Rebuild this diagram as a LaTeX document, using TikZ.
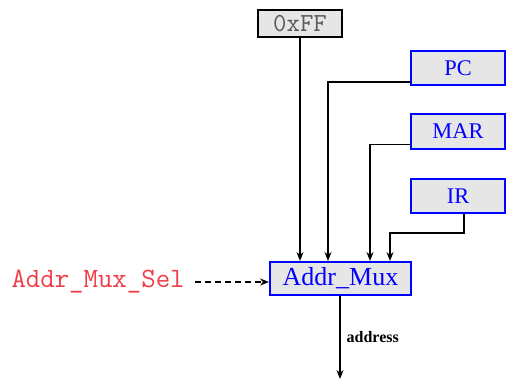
\documentclass[tikz,border=0pt]{standalone}
\usepackage{fontspec}
\setmainfont{Liberation Serif}
\usetikzlibrary{arrows.meta,calc}
\definecolor{boxgray}{RGB}{230,230,230}
\definecolor{selred}{RGB}{240,60,70}
\tikzset{
  regbox/.style={draw=blue, line width=1pt, fill=boxgray, text=blue, inner sep=0pt, font=\fontsize{11.2}{12}\selectfont},
  constbox/.style={draw=black, line width=1pt, fill=boxgray, text=black!65, inner sep=0pt, font=\ttfamily\fontsize{13}{14}\selectfont},
  wire/.style={line width=0.7pt, -{Stealth[length=4.5pt,width=3.5pt]}},
  dashwire/.style={wire, dash pattern=on 3pt off 2pt}
}
\begin{document}
\begin{tikzpicture}[x=0.5pt,y=-0.5pt]
\useasboundingbox (0,0) rectangle (509,381);
\node[constbox, minimum width=42pt, minimum height=13.5pt] (hex) at (300,23.5) {0xFF};
\node[regbox, minimum width=47pt, minimum height=17pt] (pc) at (458,68) {PC};
\node[regbox, minimum width=47pt, minimum height=17.5pt] (mar) at (458,131.5) {MAR};
\node[regbox, minimum width=47pt, minimum height=17pt] (ir) at (458,196) {IR};
\node[regbox, minimum width=70.5pt, minimum height=16.5pt, font=\fontsize{13}{14}\selectfont] (mux) at (340.5,278.5) {Addr\_Mux};
\node[anchor=east, text=selred, font=\ttfamily\fontsize{14}{15}\selectfont, inner xsep=5pt, inner ysep=0pt] (sel) at (195,282) {Addr\_Mux\_Sel};
\coordinate (pcx) at (328,0);
\coordinate (marx) at (370,0);
\coordinate (irx) at (390,233);
\coordinate (out) at (340,379);
% connectors
\draw[wire] (hex.south) -- (hex.south |- mux.north);
\draw[wire] ([yshift=-7pt]pc.west) -| (pcx |- mux.north);
\draw[wire] ([yshift=-6.5pt]mar.west) -| (marx |- mux.north);
\draw[wire] ([xshift=3pt]ir.south) |- (irx) -- (irx |- mux.north);
\draw[dashwire] (sel.east) -- (sel.east -| mux.west);
\draw[wire] (mux.south -| out) -- node[right, pos=0.5, font=\bfseries\fontsize{8}{9}\selectfont, inner xsep=3pt] {address} (out);
\end{tikzpicture}
\end{document}
